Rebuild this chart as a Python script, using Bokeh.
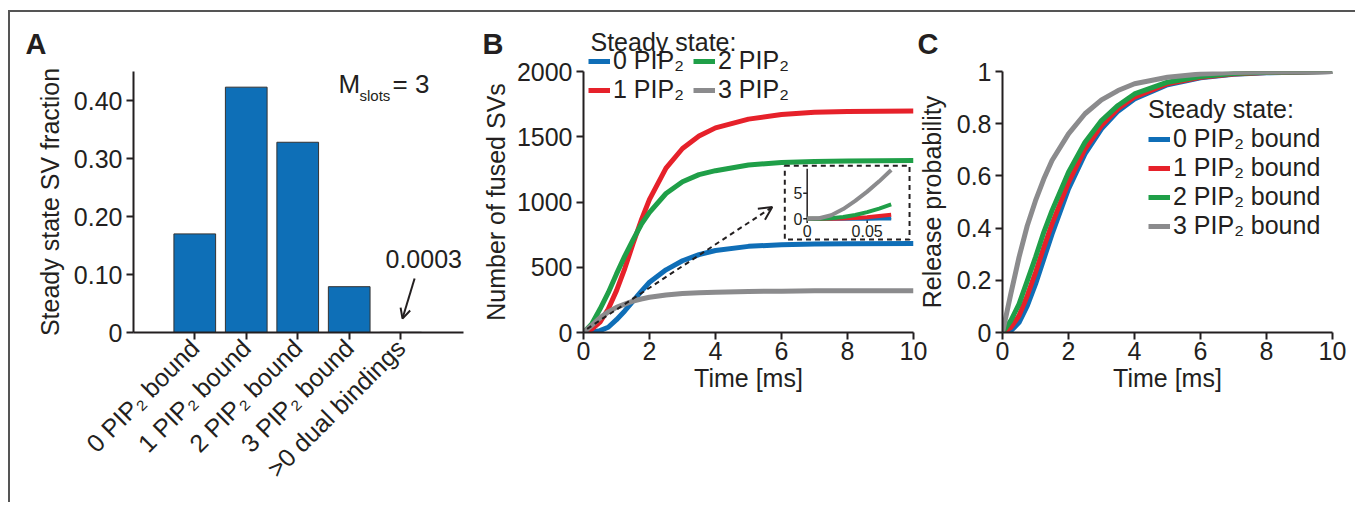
import numpy as np
from bokeh.plotting import figure
from bokeh.models import (Range1d, FixedTicker, Legend, LegendItem, Label, Arrow,
                          OpenHead)
from bokeh.layouts import row, column
from bokeh.embed import file_html
from bokeh.resources import INLINE
from bokeh.core.properties import value

FONT = "Liberation Sans"
TXT = "#231f20"
BLUE, RED, GREEN, GRAY = "#0f6eb7", "#e6212a", "#1f9f48", "#8b8b8d"
BAR = "#0e6fb7"

# ---------------- data ----------------
# Panel A
a_categories = ["0 PIP\u2082 bound", "1 PIP\u2082 bound", "2 PIP\u2082 bound",
                "3 PIP\u2082 bound", ">0 dual bindings"]
a_fraction = [0.170, 0.423, 0.328, 0.079, 0.0003]
a_yticks = [0, 0.10, 0.20, 0.30, 0.40]
a_ytick_labels = ["0", "0.10", "0.20", "0.30", "0.40"]

# Panel B (number of fused SVs vs time)
b_time = [0, 0.25, 0.5, 0.75, 1, 1.25, 1.5, 1.75, 2, 2.5, 3, 3.5, 4, 5, 6, 7, 8, 10]
b_pip0 = [0, 3, 14, 40, 98, 165, 240, 315, 385, 480, 550, 597, 628, 660, 673, 678, 680, 682]
b_pip1 = [0, 25, 80, 180, 321, 490, 680, 860, 1020, 1260, 1410, 1505, 1568, 1635, 1670, 1687, 1694, 1698]
b_pip2 = [0, 65, 180, 305, 449, 585, 710, 828, 920, 1065, 1155, 1210, 1240, 1283, 1303, 1311, 1315, 1318]
b_pip3 = [0, 55, 112, 158, 193, 218, 240, 257, 270, 288, 299, 305, 309, 314, 317, 319, 320, 320]
b_yticks = [0, 500, 1000, 1500, 2000]
b_xticks = [0, 2, 4, 6, 8, 10]

# Inset of panel B (first 0.07 ms)
ins_time = [0, 0.01, 0.02, 0.03, 0.04, 0.05, 0.06, 0.07]
ins_pip0 = [0, 0, 0, 0, 0, 0.02, 0.04, 0.06]
ins_pip1 = [0, 0, 0, 0.05, 0.15, 0.30, 0.55, 0.80]
ins_pip2 = [0, 0, 0.10, 0.35, 0.75, 1.3, 2.0, 2.8]
ins_pip3 = [0, 0.1, 0.7, 1.9, 3.5, 5.3, 7.3, 9.5]
ins_xticks = [0, 0.05]
ins_xtick_labels = ["0", "0.05"]
ins_yticks = [0, 5]
ins_ytick_labels = ["0", "5"]

# Panel C (release probability vs time)
c_time = [0, 0.25, 0.5, 0.75, 1, 1.25, 1.5, 2, 2.5, 3, 3.5, 4, 5, 6, 7, 8, 10]
c_pip0 = [0, .006, .038, .102, .185, .281, .377, .550, .684, .780, .848, .895, .949, .976, .989, .995, 1.0]
c_pip1 = [0, .019, .064, .141, .230, .326, .416, .575, .703, .793, .857, .902, .953, .978, .990, .996, 1.0]
c_pip2 = [0, .045, .109, .198, .288, .384, .467, .614, .729, .812, .870, .914, .959, .981, .992, .997, 1.0]
c_pip3 = [0, .147, .288, .409, .505, .588, .659, .761, .838, .891, .927, .953, .978, .990, .996, .998, 1.0]
c_yticks = [0, 0.2, 0.4, 0.6, 0.8, 1.0]
c_ytick_labels = ["0", "0.2", "0.4", "0.6", "0.8", "1"]

series_colors = [BLUE, RED, GREEN, GRAY]
panel_letters = ["A", "B", "C"]
legend_title = "Steady state:"


# ---------------- helpers ----------------
def style_axis(ax, size="25px"):
    ax.axis_line_color = TXT
    ax.axis_line_width = 2
    ax.major_tick_line_color = TXT
    ax.major_tick_line_width = 2
    ax.major_tick_out = 7
    ax.major_tick_in = 0
    ax.minor_tick_line_color = None
    ax.major_label_text_font = FONT
    ax.major_label_text_font_size = size
    ax.major_label_text_color = TXT
    ax.major_label_standoff = 4
    ax.axis_label_text_font = FONT
    ax.axis_label_text_font_size = size
    ax.axis_label_text_font_style = "normal"
    ax.axis_label_text_color = TXT
    ax.axis_label_standoff = 6


def make_fig(xr, yr, bl, br):
    p = figure(frame_width=330, frame_height=261, x_range=xr, y_range=yr,
               min_border_left=bl, min_border_right=br,
               min_border_top=59, min_border_bottom=170,
               output_backend="svg", toolbar_location=None)
    p.grid.visible = False
    p.outline_line_color = None
    p.background_fill_color = None
    p.border_fill_color = None
    style_axis(p.xaxis[0])
    style_axis(p.yaxis[0])
    p.xaxis[0].major_label_standoff = 2
    p.xaxis[0].axis_label_standoff = 1
    return p


def style_legend(leg):
    leg.padding = 0
    leg.margin = 0
    leg.spacing = 0
    leg.label_standoff = 3
    leg.glyph_width = 22
    leg.glyph_height = 20
    leg.label_height = 20
    leg.border_line_color = None
    leg.background_fill_alpha = 0
    leg.label_text_font = FONT
    leg.label_text_font_size = "25px"
    leg.label_text_color = TXT
    leg.title_text_font = FONT
    leg.title_text_font_size = "25px"
    leg.title_text_font_style = "normal"
    leg.title_text_color = TXT


# ---------------- Panel A ----------------
pA = make_fig(Range1d(-1.19, 5.22), Range1d(0, 0.45), 123, 7)
xs = list(range(len(a_categories)))
pA.vbar(x=xs, top=a_fraction, width=0.81, fill_color=BAR, line_color="#333333", line_width=1)
pA.xaxis[0].ticker = FixedTicker(ticks=xs)
pA.xaxis[0].major_label_overrides = {i: c for i, c in enumerate(a_categories)}
pA.xaxis[0].major_label_orientation = np.pi / 4
pA.xaxis[0].major_label_standoff = 4
pA.yaxis[0].ticker = FixedTicker(ticks=a_yticks)
pA.yaxis[0].major_label_overrides = {t: l for t, l in zip(a_yticks, a_ytick_labels)}
pA.yaxis[0].axis_label = "Steady state SV fraction"
pA.yaxis[0].axis_label_standoff = 7
pA.add_layout(Label(x=205, y=234, x_units="screen", y_units="screen", text="M",
                    text_font=FONT, text_font_size="26px", text_color=TXT))
pA.add_layout(Label(x=226, y=229, x_units="screen", y_units="screen", text="slots",
                    text_font=FONT, text_font_size="15px", text_color=TXT))
pA.add_layout(Label(x=259, y=234, x_units="screen", y_units="screen", text="= 3",
                    text_font=FONT, text_font_size="26px", text_color=TXT))
pA.add_layout(Label(x=252, y=65, x_units="screen", y_units="screen", text="0.0003",
                    text_font=FONT, text_font_size="25px", text_color=TXT))
pA.add_layout(Arrow(x_start=4.27, y_start=0.093, x_end=4.035, y_end=0.024,
                    line_color=TXT, line_width=2,
                    end=OpenHead(size=10, line_width=2, line_color=TXT)))

# ---------------- Panel B ----------------
pB = make_fig(Range1d(0, 10), Range1d(0, 2000), 113, 42)
pB.extra_x_ranges = {"ix": Range1d(-0.1864, 0.0886)}
pB.extra_y_ranges = {"iy": Range1d(-22.16, 28.71)}
for ys, col in zip([b_pip0, b_pip1, b_pip2, b_pip3], series_colors):
    pB.line(b_time, ys, line_color=col, line_width=5)
pB.xaxis[0].ticker = FixedTicker(ticks=b_xticks)
pB.yaxis[0].ticker = FixedTicker(ticks=b_yticks)
pB.xaxis[0].axis_label = "Time [ms]"
pB.yaxis[0].axis_label = "Number of fused SVs"
pB.yaxis[0].axis_label_standoff = 4

# dashed arrow pointing to the inset
pB.add_layout(Arrow(x_start=0.11, y_start=28, x_end=5.72, y_end=961,
                    line_color=TXT, line_width=2, line_dash="5 4",
                    end=OpenHead(size=13, line_width=2, line_color=TXT)))
# inset frame
pB.quad(left=6.1, right=9.88, bottom=713, top=1278, fill_color="white",
        line_color=TXT, line_width=2, line_dash="5 4")
# inset axes
pB.segment(x0=[0, 0], y0=[0, 0], x1=[0, 0.07], y1=[9.75, 0], line_color=TXT, line_width=1.5,
           x_range_name="ix", y_range_name="iy")
pB.segment(x0=[-0.0033] * len(ins_yticks), y0=ins_yticks, x1=[0] * len(ins_yticks), y1=ins_yticks,
           line_color=TXT, line_width=1.5, x_range_name="ix", y_range_name="iy")
pB.segment(x0=ins_xticks, y0=[0] * len(ins_xticks), x1=ins_xticks, y1=[-0.8] * len(ins_xticks),
           line_color=TXT, line_width=1.5, x_range_name="ix", y_range_name="iy")
pB.text(x=[-0.004] * len(ins_yticks), y=ins_yticks, text=ins_ytick_labels,
        text_font=value(FONT), text_font_size="16px", text_color=TXT,
        text_align="right", text_baseline="middle", x_range_name="ix", y_range_name="iy")
pB.text(x=ins_xticks, y=[-1.3] * len(ins_xticks), text=ins_xtick_labels,
        text_font=value(FONT), text_font_size="16px", text_color=TXT,
        text_align="center", text_baseline="top", x_range_name="ix", y_range_name="iy")
for ys, col in zip([ins_pip0, ins_pip1, ins_pip2, ins_pip3], series_colors):
    pB.line(ins_time, ys, line_color=col, line_width=4, x_range_name="ix", y_range_name="iy")

# ---------------- Panel C ----------------
pC = make_fig(Range1d(0, 10), Range1d(0, 1), 90, 23)
pC.margin = (0, 0, 0, -43)
c_rs = []
for ys, col in zip([c_pip0, c_pip1, c_pip2, c_pip3], series_colors):
    c_rs.append(pC.line(c_time, ys, line_color=col, line_width=5))
pC.xaxis[0].ticker = FixedTicker(ticks=b_xticks)
pC.yaxis[0].ticker = FixedTicker(ticks=c_yticks)
pC.yaxis[0].major_label_overrides = {t: l for t, l in zip(c_yticks, c_ytick_labels)}
pC.xaxis[0].axis_label = "Time [ms]"
pC.yaxis[0].axis_label = "Release probability"
pC.yaxis[0].axis_label_standoff = 8
c_labels = ["0 PIP\u2082 bound", "1 PIP\u2082 bound", "2 PIP\u2082 bound", "3 PIP\u2082 bound"]
legC = Legend(items=[LegendItem(label=l, renderers=[r]) for l, r in zip(c_labels, c_rs)],
              title=legend_title, location=(146, 92))
style_legend(legC)
legC.title_standoff = 0
pC.add_layout(legC)

# ------- top strip (transparent overlay): panel letters and legend of B -------
pO = figure(width=950, height=100, x_range=Range1d(0, 950), y_range=Range1d(0, 100),
            min_border=0, x_axis_location=None, y_axis_location=None,
            output_backend="svg", toolbar_location=None)
pO.grid.visible = False
pO.outline_line_color = None
pO.background_fill_color = None
pO.border_fill_color = None
for letter, lx in zip(panel_letters, [15, 472, 907]):
    pO.add_layout(Label(x=lx, y=69, text=letter, text_font=FONT, text_font_size="29px",
                        text_font_style="bold", text_color=TXT, text_baseline="alphabetic"))
pO.add_layout(Label(x=580, y=71, text=legend_title, text_font=FONT, text_font_size="25px",
                    text_color=TXT, text_baseline="alphabetic"))
# legend keys of panel B (same line styles as the curves of panel B; nothing drawn)
b_keys = [pO.line(x=[np.nan], y=[np.nan], line_color=col, line_width=5) for col in series_colors]
b_labels = ["0 PIP\u2082", "1 PIP\u2082", "2 PIP\u2082", "3 PIP\u2082"]
legB = Legend(items=[LegendItem(label=l, renderers=[r]) for l, r in zip(b_labels, b_keys)],
              ncols=2, location=(578, 8), label_width=80)
style_legend(legB)
pO.add_layout(legB)

panels = row(pA, pB, pC, margin=(-100, 0, 0, 0))
layout = column(pO, panels, margin=(10, 0, 0, 8),
                styles={"border-top": "2px solid #555555", "border-left": "2px solid #555555"})

with open("out.html", "w") as f:
    f.write(file_html(layout, INLINE))
